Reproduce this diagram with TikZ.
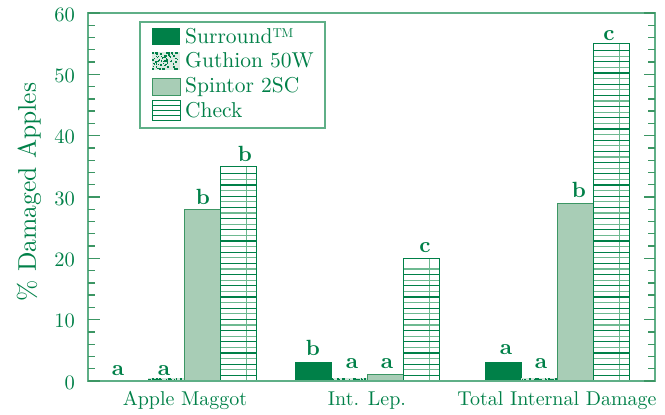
\documentclass[tikz,border=0pt]{standalone}
\usepackage{fontspec}
\setmainfont{lmroman10-regular}[Extension=.otf, BoldFont=lmroman10-bold]
\definecolor{tgreen}{RGB}{0,128,72}
\definecolor{dgreen}{RGB}{0,128,72}
\definecolor{lgreen}{RGB}{168,205,182}
\definecolor{agreen}{RGB}{95,175,135}
\definecolor{mgreen}{RGB}{60,150,100}
\definecolor{hgreen}{RGB}{110,185,145}
\newcommand\yy[1]{381-6.1333*#1}
\tikzset{
  axisline/.style={draw=agreen, line width=1.6pt},
  tickline/.style={draw=mgreen, line width=1.3pt},
  ticklab/.style={anchor=east, text=tgreen, font=\fontsize{20.5}{24}\selectfont, inner sep=0pt},
  catlab/.style={anchor=base, text=tgreen, font=\fontsize{20}{24}\selectfont, inner sep=0pt},
  barlab/.style={anchor=base, text=tgreen, font=\fontsize{22}{26}\selectfont\bfseries, inner sep=0pt},
  leglab/.style={anchor=base west, text=tgreen, font=\fontsize{21.5}{26}\selectfont, inner sep=0pt},
  surbar/.style={fill=dgreen, draw=dgreen, line width=0.6pt},
  spibar/.style={fill=lgreen, draw=mgreen, line width=1pt},
  chkbox/.style={draw=dgreen, line width=1pt},
}
\newcommand\surroundbar[2]{\path[surbar] (#1,381) rectangle ({#1+36},{\yy{#2}});}
\newcommand\spintorbar[2]{\path[spibar] (#1,381) rectangle ({#1+36},{\yy{#2}});}
\newcommand\guthionbar[1]{%
  \fill[lgreen!50] (#1,381) rectangle ({#1+36},378);
  \foreach \i in {1,...,22}{%
    \fill[dgreen] ({#1+34.5*rnd},{378+1.5*rnd}) rectangle ++(1.5,1.5);}}
\newcommand\checkbar[2]{%
  \pgfmathsetmacro{\chkn}{int(floor(6.1333*#2/5.6)-1)}%
  \draw[hgreen, line width=0.6pt] ({#1+26},381) -- ({#1+26},{\yy{#2}});
  \foreach \k in {1,...,\chkn}{%
    \ifodd\k \def\lc{dgreen}\else\def\lc{hgreen}\fi
    \draw[\lc, line width=1.1pt] (#1,{381-5.6*\k}) -- ({#1+36},{381-5.6*\k});}
  \path[chkbox] (#1,381) rectangle ({#1+36},{\yy{#2}});}
\begin{document}
\begin{tikzpicture}[x=1pt,y=-1pt]
\pgfmathsetseed{11}
\useasboundingbox (0,0) rectangle (665,415);
% bars: Apple Maggot
\guthionbar{148}
\spintorbar{184}{28}
\checkbar{220}{35}
% Int. Lep.
\surroundbar{295}{3}
\guthionbar{331}
\spintorbar{367}{1}
\checkbar{403}{20}
% Total Internal Damage
\surroundbar{485}{3}
\guthionbar{521}
\spintorbar{557}{29}
\checkbar{593}{55}
% axes
\draw[axisline] (88,13) rectangle (655,381);
\foreach \v in {0,2,...,60}{
  \draw[tickline] (88,{\yy{\v}}) -- ++(7,0);
  \draw[tickline] (655,{\yy{\v}}) -- ++(-7,0);
}
\foreach \v in {0,10,...,60}{
  \draw[tickline] (88,{\yy{\v}}) -- ++(12,0);
  \draw[tickline] (655,{\yy{\v}}) -- ++(-11,0);
  \node[ticklab] (t\v) at (75,{\yy{\v}+1.5}) {\v};
}
\node[rotate=90, text=tgreen, font=\fontsize{25.5}{30}\selectfont, inner sep=0pt] (ylab) at (29,192) {\% Damaged Apples};
% category labels
\node[catlab] (c1) at (185,405) {Apple Maggot};
\node[catlab] (c2) at (367,405) {Int. Lep.};
\node[catlab] (c3) at (557,405) {Total Internal Damage};
% bar letters
\node[barlab] (l11) at (118,375) {a};
\node[barlab] (l12) at (164,375) {a};
\node[barlab] (l13) at (203,204) {b};
\node[barlab] (l14) at (245,161) {b};
\node[barlab] (l21) at (313,355) {b};
\node[barlab] (l22) at (352,368) {a};
\node[barlab] (l23) at (387,368) {a};
\node[barlab] (l24) at (425,252) {c};
\node[barlab] (l31) at (506,354) {a};
\node[barlab] (l32) at (541,368) {a};
\node[barlab] (l33) at (579,197) {b};
\node[barlab] (l34) at (609,40) {c};
% legend
\draw[draw=agreen, line width=1.3pt, fill=white] (140,22) rectangle (325,128);
\fill[dgreen] (152,28) rectangle (180,45);
\fill[lgreen!40] (152,52) rectangle (180,70);
\foreach \i in {1,...,75}{\fill[dgreen] ({152+26.5*rnd},{52+16.5*rnd}) rectangle ++(1.5,1.5);}
\path[spibar] (152,78) rectangle (180,95);
\draw[dgreen, line width=1pt] (152,100) rectangle (180,120);
\foreach \q in {105,110,115}{\draw[dgreen, line width=1pt] (152,\q) -- (180,\q);}
\node[leglab] (e1) at (185,43) {Surround\texttrademark};
\node[leglab] (e2) at (185,67) {Guthion 50W};
\node[leglab] (e3) at (185,92) {Spintor 2SC};
\node[leglab] (e4) at (185,117) {Check};
\end{tikzpicture}
\end{document}
